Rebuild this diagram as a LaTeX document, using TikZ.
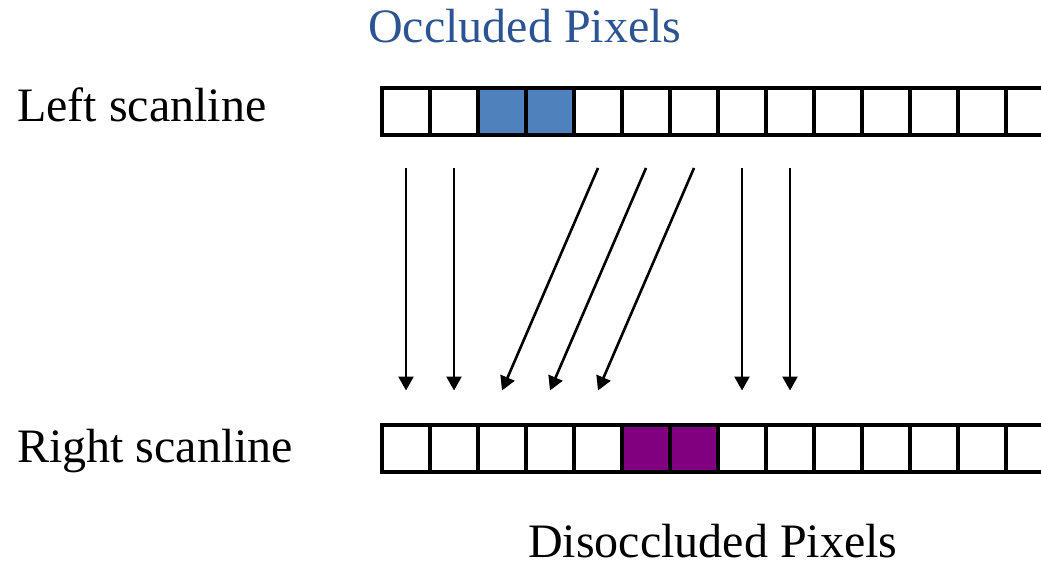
\documentclass[tikz,border=0pt]{standalone}
\usepackage{fontspec}
\setmainfont{Liberation Serif}
\usetikzlibrary{arrows.meta,calc}
\definecolor{occblue}{RGB}{79,129,189}
\definecolor{occpurple}{RGB}{128,0,128}
\definecolor{titleblue}{RGB}{44,84,146}
\begin{document}
\begin{tikzpicture}[x=1pt,y=-1pt,
  cell/.style={draw=black,line width=4pt,minimum width=48pt,minimum height=47pt,inner sep=0pt,fill=white},
  bluecell/.style={cell,fill=occblue},
  purplecell/.style={cell,fill=occpurple},
  lbl/.style={inner sep=0pt,anchor=base west,font=\fontsize{48}{56}\selectfont},
  arr/.style={-{Triangle[length=14pt,width=15pt]},line width=2.6pt,black}]
\useasboundingbox (0,0) rectangle (1041,564);
\clip (0,0) rectangle (1041,564);
% cells
\foreach \i in {1,...,14}{
  \pgfmathsetmacro{\cx}{406+48*(\i-1)}
  \ifnum\i=3 \def\ls{bluecell}\else\ifnum\i=4 \def\ls{bluecell}\else\def\ls{cell}\fi\fi
  \ifnum\i=6 \def\rs{purplecell}\else\ifnum\i=7 \def\rs{purplecell}\else\def\rs{cell}\fi\fi
  \node[\ls] (L\i) at (\cx,111.5) {};
  \node[\rs] (R\i) at (\cx,448) {};
}
% labels
\node[lbl,text=titleblue] (occ) at (368,43) {Occluded Pixels};
\node[lbl] (lefts) at (17,122) {Left scanline};
\node[lbl] (rights) at (17,462) {Right scanline};
\node[lbl] (disocc) at (528,557) {Disoccluded Pixels};
% arrow end points
\foreach \i in {1,2,5,6,7,8,9}{
  \coordinate (s\i) at ($(L\i.south)+(0,31)$);
}
\foreach \i in {1,2,3,4,5,8,9}{
  \coordinate (e\i) at ($(R\i.north)+(0,-32)$);
}
% arrows
\draw[arr] (s1) -- (e1);
\draw[arr] (s2) -- (e2);
\draw[arr] (s5) -- (e3);
\draw[arr] (s6) -- (e4);
\draw[arr] (s7) -- (e5);
\draw[arr] (s8) -- (e8);
\draw[arr] (s9) -- (e9);
\end{tikzpicture}
\end{document}
